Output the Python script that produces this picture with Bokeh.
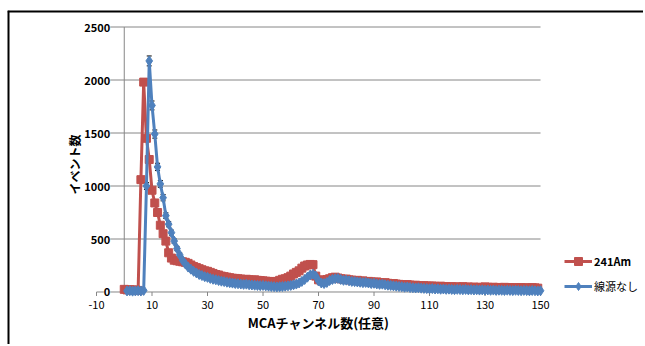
import numpy as np
from bokeh.plotting import figure
from bokeh.models import (ColumnDataSource, Range1d, Whisker, TeeHead,
                          Legend, LegendItem, Span)
from bokeh.core.properties import value
from bokeh.embed import file_html
from bokeh.resources import INLINE

# ---------------- data ----------------
am_channel = list(range(0, 150))
am_counts = [
    25, 20, 22, 18, 20, 15, 1060, 1980, 1450, 1250,
    960, 840, 750, 630, 550, 480, 370, 320, 300, 295,
    290, 285, 280, 270, 255, 240, 230, 220, 210, 200,
    195, 185, 175, 165, 160, 150, 145, 140, 135, 130,
    128, 125, 122, 118, 120, 115, 112, 115, 110, 108,
    105, 102, 100, 98, 95, 100, 110, 120, 125, 135,
    150, 170, 185, 200, 225, 245, 255, 260, 258, 150,
    115, 105, 110, 118, 125, 135, 140, 132, 125, 120,
    122, 115, 112, 108, 110, 102, 105, 98, 100, 95,
    92, 95, 88, 85, 88, 82, 78, 80, 75, 72,
    70, 68, 70, 65, 62, 64, 60, 58, 60, 56,
    55, 57, 53, 52, 55, 50, 52, 48, 50, 47,
    48, 46, 50, 45, 47, 44, 46, 42, 45, 43,
    48, 44, 42, 45, 40, 43, 41, 44, 40, 42,
    38, 41, 39, 42, 37, 40, 38, 41, 39, 36,
]
bg_channel = list(range(1, 151))
bg_counts = [
    10, 12, 8, 10, 12, 9, 15, 1000, 2180, 1760,
    1490, 1180, 1020, 890, 720, 640, 560, 480, 410, 350,
    300, 265, 235, 215, 195, 180, 165, 155, 145, 138,
    128, 120, 115, 108, 102, 98, 92, 88, 84, 80,
    78, 75, 72, 74, 68, 66, 64, 62, 60, 62,
    58, 55, 52, 50, 48, 50, 52, 55, 58, 62,
    68, 75, 85, 100, 118, 140, 160, 168, 150, 105,
    85, 80, 90, 108, 118, 125, 128, 118, 110, 112,
    105, 100, 98, 95, 92, 88, 90, 85, 80, 82,
    76, 72, 74, 68, 64, 62, 58, 55, 52, 50,
    45, 47, 42, 40, 38, 40, 36, 34, 32, 30,
    32, 28, 30, 26, 28, 25, 27, 24, 22, 25,
    23, 21, 24, 20, 22, 19, 21, 18, 20, 17,
    19, 16, 18, 15, 17, 16, 14, 17, 15, 13,
    16, 14, 12, 15, 13, 11, 14, 12, 10, 12,
]
x_ticks = [-10, 10, 30, 50, 70, 90, 110, 130, 150]
x_tick_labels = ["-10", "10", "30", "50", "70", "90", "110", "130", "150"]
y_ticks = [0, 500, 1000, 1500, 2000, 2500]
y_tick_labels = ["0", "500", "1000", "1500", "2000", "2500"]
series_names = ["241Am", "線源なし"]
x_title = "MCAチャンネル数(任意)"
y_title = "イベント数"

RED = "#C0504D"
BLUE = "#4F81BD"
GRID = "#868686"
FONT = "Noto Sans CJK JP"

x_lo, x_hi = x_ticks[0], x_ticks[-1]
y_lo, y_hi = y_ticks[0], y_ticks[-1]

am_src = ColumnDataSource(dict(x=am_channel, y=am_counts))
bg_err = np.sqrt(np.array(bg_counts, dtype=float))
bg_src = ColumnDataSource(dict(x=bg_channel, y=bg_counts,
                               lo=np.array(bg_counts) - bg_err,
                               hi=np.array(bg_counts) + bg_err))

# The frame covers the whole chart area; the plotted axes span -10..150 and 0..2500,
# the rest of the frame holds the border, the axis texts and the legend.
XR = Range1d(-42.07, 187.1)
YR = Range1d(-495.3, 2655.7)
p = figure(width=643, height=344, x_range=XR, y_range=YR,
           output_backend="svg", toolbar_location=None,
           min_border_left=7, min_border_right=0, min_border_top=10, min_border_bottom=0)
p.outline_line_color = None
p.background_fill_color = "white"
p.border_fill_color = "white"
p.xgrid.visible = False
p.ygrid.visible = False
p.xaxis.visible = False
p.yaxis.visible = False

# chart-area border (top and left)
p.add_layout(Span(location=XR.start, dimension="height", line_color="black", line_width=4))
p.add_layout(Span(location=YR.end, dimension="width", line_color="black", line_width=4))

# gridlines (the one at 0 is the x axis line) and the y axis line at x = 0
p.segment(x0=[x_lo] * len(y_ticks), x1=[x_hi] * len(y_ticks), y0=y_ticks, y1=y_ticks,
          line_color=GRID, line_width=1)
p.segment(x0=[0], x1=[0], y0=[y_lo], y1=[y_hi], line_color=GRID, line_width=1)

# x axis ticks, tick labels and title
p.ray(x=x_ticks, y=[y_lo] * len(x_ticks), length=4, length_units="screen",
      angle=-np.pi / 2, line_color=GRID, line_width=1)
p.text(x=x_ticks, y=[y_lo] * len(x_ticks), text=x_tick_labels, y_offset=13,
       text_align="center", text_baseline="middle", text_font=value(FONT),
       text_font_size="11px", text_color="black")
p.text(x=[(x_lo + x_hi) / 2], y=[y_lo], text=[x_title], y_offset=31,
       text_align="center", text_baseline="middle", text_font=value(FONT),
       text_font_size="13px", text_font_style="bold", text_color="black")

# y title
p.text(x=[x_lo], y=[(y_lo + y_hi) / 2], text=[y_title], angle=np.pi / 2,
       x_offset=-22, y_offset=5, text_align="center", text_baseline="middle",
       text_font=value(FONT), text_font_size="12px", text_font_style="bold",
       text_color="black")

# y tick labels at the y axis (x = 0)
ylab = p.text(x=[0] * len(y_ticks), y=y_ticks, text=y_tick_labels, x_offset=-14,
              text_align="right", text_baseline="middle", text_font=value(FONT),
              text_font_size="11px", text_font_style="bold", text_color="black")
try:
    ylab.glyph.background_fill_color = "white"
except Exception:
    pass

r_am_line = p.line("x", "y", source=am_src, line_color=RED, line_width=3)
r_am_pts = p.scatter("x", "y", source=am_src, marker="square", size=8,
                     fill_color=RED, line_color=RED)
r_bg_line = p.line("x", "y", source=bg_src, line_color=BLUE, line_width=3)
r_bg_pts = p.scatter("x", "y", source=bg_src, marker="diamond", size=10,
                     fill_color=BLUE, line_color=BLUE)
wh = Whisker(base="x", lower="lo", upper="hi", source=bg_src, line_color="black",
             line_width=1,
             lower_head=TeeHead(size=5, line_color="black", line_width=1),
             upper_head=TeeHead(size=5, line_color="black", line_width=1))
p.add_layout(wh)

common = dict(border_line_color=None, background_fill_alpha=0, padding=0, margin=0,
              spacing=0, glyph_width=28, glyph_height=20, label_height=20,
              label_standoff=2, label_text_font=FONT, label_text_font_size="11px",
              label_text_color="black")
leg1 = Legend(items=[LegendItem(label=series_names[0], renderers=[r_am_line, r_am_pts])],
              location=(557, 73), label_text_font_style="bold", **common)
leg2 = Legend(items=[LegendItem(label=series_names[1], renderers=[r_bg_line, r_bg_pts])],
              location=(557, 48), **common)
p.add_layout(leg1)
p.add_layout(leg2)

open("out.html", "w").write(file_html(p, INLINE))
